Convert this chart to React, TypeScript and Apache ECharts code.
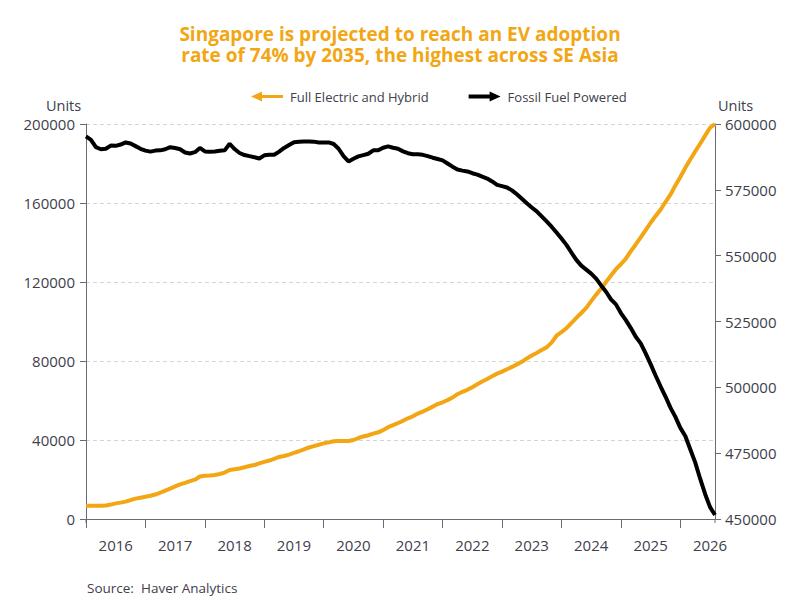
import React, { useEffect, useRef } from "react";
import * as echarts from "echarts";

// Monthly categories: Jan 2016 .. Aug 2026
const startYear = 2016;
const monthCount = 128;
const months: string[] = [];
for (let i = 0; i < monthCount; i++) {
  const y = startYear + Math.floor(i / 12);
  const m = (i % 12) + 1;
  months.push(`${y}-${m < 10 ? "0" + m : m}`);
}

// Full Electric and Hybrid (left axis, units)
const evUnits: number[] = [
  6700, 6700, 6700, 6700, 6800, 7300, 7900, 8300, 8800, 9600, 10300, 10800,
  11300, 11800, 12400, 13300, 14400, 15400, 16500, 17500, 18300, 19200, 19900, 21500,
  21900, 22000, 22300, 22800, 23500, 24800, 25200, 25600, 26200, 26800, 27300, 28200,
  28900, 29600, 30500, 31400, 31900, 32600, 33500, 34300, 35300, 36200, 36900, 37600,
  38300, 38800, 39400, 39500, 39500, 39500, 40000, 41000, 41800, 42400, 43200, 43900,
  45000, 46500, 47500, 48600, 49700, 51000, 52000, 53400, 54400, 55600, 56900, 58200,
  59100, 60200, 61500, 63200, 64400, 65400, 66700, 68200, 69600, 70900, 72300, 73600,
  74600, 75800, 77000, 78300, 79600, 81300, 82800, 84100, 85600, 86900, 89300, 92800,
  94600, 96600, 99200, 101800, 104300, 106900, 110300, 113600, 116600, 120000, 123300, 126500,
  129000, 131800, 135600, 139000, 142600, 146300, 150000, 153400, 156600, 160500, 164200, 168900,
  173200, 177800, 182000, 186100, 190000, 194100, 198100, 200000,
];

// Fossil Fuel Powered (right axis, units)
const fossilUnits: number[] = [
  595300, 594000, 591200, 590400, 590600, 591800, 591700, 592200, 593000, 592600, 591600, 590600,
  589900, 589500, 589900, 590000, 590400, 591200, 590900, 590400, 589200, 588800, 589300, 590900,
  589600, 589500, 589600, 589800, 590000, 592500, 590500, 589000, 588200, 587800, 587400, 586900,
  588100, 588300, 588300, 589500, 590900, 592000, 593100, 593300, 593400, 593400, 593300, 593000,
  593000, 593000, 592400, 590600, 587800, 585800, 586800, 587700, 588200, 588700, 590000, 590000,
  591000, 591500, 591000, 590600, 589600, 588900, 588500, 588500, 588300, 587800, 587200, 586700,
  586200, 585000, 583800, 582700, 582300, 582000, 581300, 580800, 580000, 579300, 578200, 576900,
  576400, 575900, 574800, 573300, 571600, 569900, 568300, 566800, 564900, 563000, 561000, 558800,
  556500, 554100, 551200, 548400, 546200, 544700, 543200, 541300, 538700, 536300, 533400, 531500,
  528200, 525500, 522500, 519200, 516700, 512900, 508800, 504500, 500400, 496500, 492300, 488800,
  484600, 481500, 476500, 471500, 465300, 459500, 454500, 451500,
];

const leftAxis = { min: 0, max: 200000, interval: 40000 };
const rightAxis = { min: 450000, max: 600000, interval: 25000 };

const seriesNames = ["Full Electric and Hybrid", "Fossil Fuel Powered"];
const titleLines = [
  "Singapore is projected to reach an EV adoption",
  "rate of 74% by 2035, the highest across SE Asia",
];
const sourceText = "Source:  Haver Analytics";
const unitText = "Units";

const ORANGE = "#F2A614";
const TEXT = "#40404c";
const AXIS = "#6a6a74";
const FONT = "'Open Sans', 'Noto Sans', sans-serif";

export default function App() {
  const ref = useRef<HTMLDivElement>(null);

  useEffect(() => {
    document.body.style.margin = "0";
    if (!ref.current) return;
    const chart = echarts.init(ref.current, undefined, { renderer: "svg" });
    const gl = 86;
    const gr = 715;
    const gt = 124;
    const gb = 519;
    const titleStyle = {
      color: ORANGE,
      fontSize: 19,
      fontWeight: "bold",
      lineHeight: 20,
      fontFamily: FONT,
    };
    chart.setOption({
      animation: false,
      backgroundColor: "#ffffff",
      textStyle: { fontFamily: FONT },
      title: [
        { text: titleLines[0], left: "center", top: 24, padding: 0, textStyle: titleStyle },
        { text: titleLines[1], left: "center", top: 45, padding: 0, textStyle: titleStyle },
      ],
      legend: {
        left: 246,
        top: 85,
        itemWidth: 32,
        itemHeight: 10,
        itemGap: 40,
        data: [
          {
            name: seriesNames[0],
            icon: "path://M0,5L11,0L11,3.5L32,3.5L32,6.5L11,6.5L11,10Z",
            itemStyle: { color: ORANGE },
          },
          {
            name: seriesNames[1],
            icon: "path://M32,5L21,0L21,3L0,3L0,7L21,7L21,10Z",
            itemStyle: { color: "#000000" },
          },
        ],
        textStyle: { color: TEXT, fontSize: 13, padding: [0, 0, 0, 2], fontFamily: FONT },
      },
      grid: {
        left: gl,
        right: 800 - gr,
        top: gt,
        bottom: 600 - gb,
        containLabel: false,
        outerBoundsMode: "none",
      },
      xAxis: {
        type: "category",
        data: months,
        boundaryGap: false,
        offset: 4,
        axisLine: { show: true, lineStyle: { color: AXIS, width: 1 } },
        axisTick: {
          show: true,
          length: 9,
          interval: (i: number) => i % 12 === 0,
          lineStyle: { color: AXIS },
        },
        axisLabel: {
          interval: (i: number) => i % 12 === 6,
          formatter: (v: string) => v.slice(0, 4),
          color: TEXT,
          fontSize: 15,
          margin: 14,
          fontFamily: FONT,
        },
        splitLine: { show: false },
      },
      yAxis: [
        {
          type: "value",
          position: "left",
          min: leftAxis.min,
          max: leftAxis.max,
          interval: leftAxis.interval,
          axisLine: { show: true, lineStyle: { color: AXIS } },
          axisTick: { show: true, length: 6, lineStyle: { color: AXIS } },
          axisLabel: {
            color: TEXT,
            fontSize: 15,
            margin: 11,
            fontFamily: FONT,
            formatter: (v: number) => String(v),
          },
          splitLine: {
            show: true,
            lineStyle: {
              type: [4, 3],
              width: 1,
              color: ["rgba(0,0,0,0)", "#d4d4d8", "#d4d4d8", "#d4d4d8", "#d4d4d8", "#d4d4d8"],
            },
          },
        },
        {
          type: "value",
          position: "right",
          min: rightAxis.min,
          max: rightAxis.max,
          interval: rightAxis.interval,
          axisLine: { show: true, lineStyle: { color: AXIS } },
          axisTick: { show: true, length: 6, lineStyle: { color: AXIS } },
          axisLabel: {
            color: TEXT,
            fontSize: 15,
            margin: 10,
            fontFamily: FONT,
            formatter: (v: number) => String(v),
          },
          splitLine: { show: false },
        },
      ],
      series: [
        {
          name: seriesNames[0],
          type: "line",
          yAxisIndex: 0,
          data: evUnits,
          showSymbol: false,
          symbol: "none",
          lineStyle: { color: ORANGE, width: 4 },
          itemStyle: { color: ORANGE },
        },
        {
          name: seriesNames[1],
          type: "line",
          yAxisIndex: 1,
          data: fossilUnits,
          showSymbol: false,
          symbol: "none",
          lineStyle: { color: "#000000", width: 4 },
          itemStyle: { color: "#000000" },
        },
      ],
      graphic: [
        {
          type: "line",
          shape: { x1: gl, y1: gb, x2: gl, y2: gb + 4 },
          style: { stroke: AXIS, lineWidth: 1 },
        },
        {
          type: "line",
          shape: { x1: gr, y1: gb, x2: gr, y2: gb + 4 },
          style: { stroke: AXIS, lineWidth: 1 },
        },
        {
          type: "text",
          left: 46,
          top: 98,
          style: { text: unitText, fill: TEXT, fontSize: 14.5, fontFamily: FONT },
        },
        {
          type: "text",
          left: 718,
          top: 98,
          style: { text: unitText, fill: TEXT, fontSize: 14.5, fontFamily: FONT },
        },
        {
          type: "text",
          left: 87,
          top: 581,
          style: { text: sourceText, fill: TEXT, fontSize: 13.5, fontFamily: FONT },
        },
      ],
    });
    return () => chart.dispose();
  }, []);

  return (
    <div
      ref={ref}
      style={{ position: "absolute", left: 0, top: 0, width: 800, height: 600 }}
    />
  );
}
